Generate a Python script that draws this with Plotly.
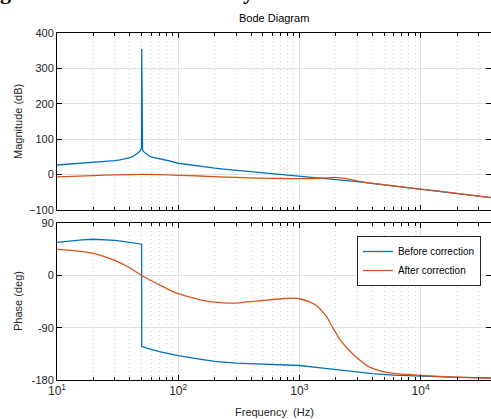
import plotly.graph_objects as go

# ---------------- data ----------------
series_names = ["Before correction", "After correction"]

before_mag_f = [10, 13, 16, 20, 25, 30, 33, 36, 40, 42.5, 44.5, 46.6, 48, 49.2, 49.8, 50.0,
                50.2, 50.8, 52, 54.8, 58, 62, 70, 80, 100, 130, 160, 200, 250, 323, 400,
                500, 700, 1000, 1500, 2000, 3000, 5000, 7000, 10000, 15000, 20000, 30000, 38000]
before_mag_db = [27, 29.5, 31.5, 34, 36.5, 39.5, 41.5, 44, 48, 52, 56, 61, 65, 70, 75, 355,
                 75, 70, 64, 57, 52, 48.5, 45.5, 40.5, 32, 26, 22, 18, 14.5, 11, 7.5,
                 4, 0, -5, -10, -14, -20, -29, -35, -41, -48, -53, -60, -65]

after_mag_f = [10, 15, 20, 30, 50, 70, 100, 150, 200, 300, 500, 700, 1000, 1400, 1800,
               2100, 2500, 3000, 3500, 4620, 7000, 10000, 20000, 38000]
after_mag_db = [-6.5, -4.5, -2.7, -1, 0.5, 0, -2, -4, -6, -8, -10, -11, -11.5, -10.5, -8.5,
                -8.5, -12, -18, -22, -27, -35, -41, -53, -65]

before_ph_f = [10, 13, 16, 20, 25, 30, 35, 40, 45, 49.9, 50.0, 55, 70, 100, 150, 200, 300,
               500, 1000, 1500, 2000, 3000, 4000, 6000, 10000, 20000, 38000]
before_ph_deg = [57, 60, 61.5, 62.5, 62, 60.5, 59, 57, 55.5, 54, -122, -125, -131, -138, -144,
                 -148, -151, -153, -155, -159, -162, -166, -169, -171.5, -173.5, -175.5, -176.5]

after_ph_f = [10, 15, 20, 25, 30, 40, 50, 60, 70, 85, 100, 130, 160, 200, 250, 320, 400, 500,
              700, 900, 1000, 1200, 1387, 1673, 1900, 2170, 2630, 3160, 3600, 4000, 5000,
              6000, 8000, 10000, 20000, 38000]
after_ph_deg = [45, 42, 38, 32, 26, 13, 0, -9, -16, -25, -31, -38, -43, -46, -47.5, -47, -45,
                -43, -40, -39, -40, -45, -52, -71, -91, -111, -131, -146, -155, -160, -166,
                -168.5, -170.5, -172, -175, -177]

mag_ticks = [-100, 0, 100, 200, 300, 400]
phase_ticks = [-180, -90, 0, 90]
phase_ticktext = ["-180", "-90", "0", "90"]
freq_major = [10, 100, 1000, 10000]
freq_major_text = ["10<sup>1</sup>", "10<sup>2</sup>", "10<sup>3</sup>", "10<sup>4</sup>"]
freq_minor = [m * d for d in (10, 100, 1000, 10000) for m in range(2, 10)]

BLUE = "#0072BD"
ORANGE = "#D95319"
TXT = "#262626"
FONT = "Liberation Sans, Arial, sans-serif"

fig = go.Figure()
fig.add_trace(go.Scatter(x=before_mag_f, y=before_mag_db, mode="lines", name=series_names[0],
                         line=dict(color=BLUE, width=1.3), xaxis="x", yaxis="y", showlegend=False))
fig.add_trace(go.Scatter(x=after_mag_f, y=after_mag_db, mode="lines", name=series_names[1],
                         line=dict(color=ORANGE, width=1.3, shape="spline", smoothing=0.6),
                         xaxis="x", yaxis="y", showlegend=False))
fig.add_trace(go.Scatter(x=before_ph_f, y=before_ph_deg, mode="lines", name=series_names[0],
                         line=dict(color=BLUE, width=1.3), xaxis="x2", yaxis="y2"))
fig.add_trace(go.Scatter(x=after_ph_f, y=after_ph_deg, mode="lines", name=series_names[1],
                         line=dict(color=ORANGE, width=1.3, shape="spline", smoothing=0.6),
                         xaxis="x2", yaxis="y2"))

xcommon = dict(
    type="log", range=[1, 4.581], showline=True, linecolor="black", linewidth=1,
    mirror="allticks", ticks="inside", ticklen=5, tickcolor="black",
    tickvals=freq_major, showgrid=True, gridcolor="#e0e0e0", gridwidth=1,
    zeroline=False,
    minor=dict(tickmode="array", tickvals=freq_minor, ticks="inside", ticklen=3,
               tickcolor="black", showgrid=True, gridcolor="#d6d6d6", griddash="1px,3px",
               gridwidth=1),
    tickfont=dict(family=FONT, size=12, color=TXT),
)
ycommon = dict(
    showline=True, linecolor="black", linewidth=1, mirror="ticks", ticks="inside",
    ticklen=5, tickcolor="black", showgrid=True, gridcolor="#e0e0e0", gridwidth=1,
    zeroline=False, tickfont=dict(family=FONT, size=11, color=TXT),
)

fig.update_layout(
    width=491, height=419, autosize=False,
    margin=dict(l=57, r=0, t=33, b=39, autoexpand=False),
    paper_bgcolor="white", plot_bgcolor="white",
    font=dict(family=FONT, size=11, color=TXT),
    xaxis=dict(**xcommon, domain=[0, 1], anchor="y", showticklabels=False),
    xaxis2=dict(**xcommon, domain=[0, 1], anchor="y2", matches="x",
                ticktext=freq_major_text, showticklabels=True),
    yaxis=dict(**ycommon, domain=[0.490, 1], range=[-100, 400], tickvals=mag_ticks),
    yaxis2=dict(**ycommon, domain=[0, 0.4516], range=[-180, 90], tickvals=phase_ticks,
                ticktext=phase_ticktext),
    legend=dict(x=0.691, y=0.4516 - 12.7 / 347, xanchor="left", yanchor="top",
                bgcolor="white", bordercolor=TXT, borderwidth=1,
                font=dict(family=FONT, size=10, color="black"),
                tracegroupgap=0, itemwidth=30),
    showlegend=True,
)

def ypx(p):
    return (380 - p) / 347.0

anns = [
    dict(text="Bode Diagram", x=0.5, y=ypx(18), xref="paper", yref="paper",
         showarrow=False, font=dict(family=FONT, size=11, color="black"),
         xanchor="center", yanchor="middle"),
    dict(text="Magnitude (dB)", x=(18 - 57) / 434.0, y=ypx(122), xref="paper", yref="paper",
         showarrow=False, textangle=-90, font=dict(family=FONT, size=11, color=TXT),
         xanchor="center", yanchor="middle"),
    dict(text="Phase (deg)", x=(18 - 57) / 434.0, y=ypx(301), xref="paper", yref="paper",
         showarrow=False, textangle=-90, font=dict(family=FONT, size=11, color=TXT),
         xanchor="center", yanchor="middle"),
    dict(text="Frequency  (Hz)", x=0.5, y=ypx(412), xref="paper", yref="paper",
         showarrow=False, font=dict(family=FONT, size=11, color=TXT),
         xanchor="center", yanchor="middle"),
    dict(text="<b>g</b>", x=(5 - 57) / 434.0, y=ypx(-9), xref="paper", yref="paper",
         showarrow=False, font=dict(family="Liberation Serif, serif", size=22, color="black"),
         xanchor="center", yanchor="middle"),
    dict(text="<b>y</b>", x=(248 - 57) / 434.0, y=ypx(-8), xref="paper", yref="paper",
         showarrow=False, font=dict(family="Liberation Serif, serif", size=22, color="black"),
         xanchor="center", yanchor="middle"),
]
fig.update_layout(annotations=anns)

fig.write_html("out.html", config={"displayModeBar": False},
               post_script="document.body.style.margin='0';document.body.style.padding='0';")
